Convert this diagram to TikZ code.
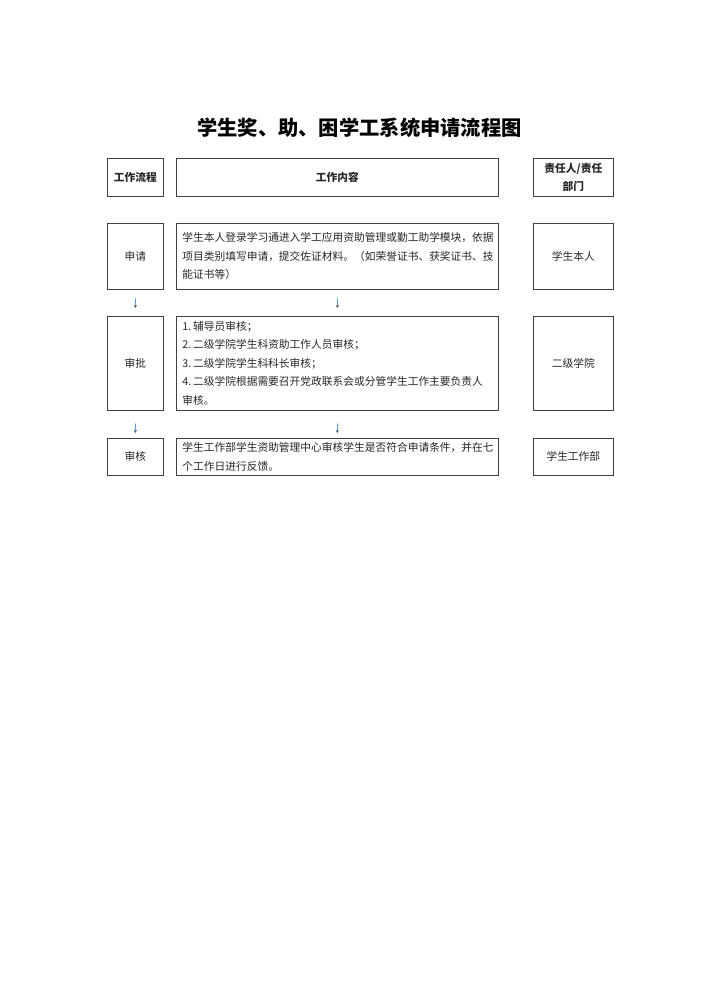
\documentclass[tikz,border=0pt]{standalone}
\usepackage{fontspec}
\setmainfont{Noto Sans CJK SC}
\usetikzlibrary{arrows.meta}
\definecolor{arrowblue}{RGB}{91,155,213}
\begin{document}
\begin{tikzpicture}
[x=0.8385pt,y=-0.8385pt,line cap=round,
% Styles
box/.style={draw=black!75,line width=0.6pt,inner sep=0pt,anchor=north west,
  text=black!85,font=\fontsize{9pt}{15.5pt}\selectfont},
head box/.style={box,font=\fontsize{9pt}{15.5pt}\selectfont\bfseries,align=center},
flow box/.style={box,minimum width=46.96pt,align=center},
content box/.style={box,minimum width=270pt,text width=259.9pt,inner xsep=5.03pt,align=left},
dept box/.style={box,minimum width=67.08pt,align=center},
flow arrow/.style={draw=arrowblue,line width=0.7pt,
  -{Stealth[length=2.5pt,width=2.6pt,color=black!65]}}]
\useasboundingbox (0,0) rectangle (710,1004);
% Title
\node[font=\fontsize{17pt}{20pt}\selectfont\bfseries] (title) at (359.5,128)
{学生奖、助、困学工系统申请流程图};
% Header row
\node[head box,minimum width=46.96pt,minimum height=31.86pt] (head flow) at (107,158) {工作流程};
\node[head box,minimum width=270pt,minimum height=31.86pt] (head content) at (176,158) {工作内容};
\node[head box,minimum width=67.08pt,minimum height=31.86pt] (head dept) at (533,158) {责任人/责任\\部门};
% Row 1
\node[flow box,minimum height=55.34pt] (apply) at (107,223) {申请};
\node[content box,minimum height=55.34pt] (apply text) at (176,223)
{学生本人登录学习通进入学工应用资助管理或勤工助学模块，依据\\
项目类别填写申请，提交佐证材料。（如荣誉证书、获奖证书、技\\
能证书等）};
\node[dept box,minimum height=55.34pt] (apply dept) at (533,223) {学生本人};
% Row 2
\node[flow box,minimum height=78.82pt] (approve) at (107,316) {审批};
\node[content box,minimum height=78.82pt] (approve text) at (176,316)
{1.\,辅导员审核；\\
2.\,二级学院学生科资助工作人员审核；\\
3.\,二级学院学生科科长审核；\\
4.\,二级学院根据需要召开党政联系会或分管学生工作主要负责人\\
审核。};
\node[dept box,minimum height=78.82pt] (approve dept) at (533,316) {二级学院};
% Row 3
\node[flow box,minimum height=31.02pt] (check) at (107,438) {审核};
\node[content box,minimum height=31.02pt] (check text) at (176,438)
{学生工作部学生资助管理中心审核学生是否符合申请条件，并在七\\
个工作日进行反馈。};
\node[dept box,minimum height=31.02pt] (check dept) at (533,438) {学生工作部};
% Arrows
\draw[flow arrow,shorten <=7.5pt,shorten >=6.7pt] (apply) -- (approve);
\draw[flow arrow,shorten <=7.5pt,shorten >=6.7pt] (apply text) -- (approve text);
\draw[flow arrow,shorten <=10.9pt,shorten >=4.2pt] (approve) -- (check);
\draw[flow arrow,shorten <=10.9pt,shorten >=4.2pt] (approve text) -- (check text);
\end{tikzpicture}
\end{document}
